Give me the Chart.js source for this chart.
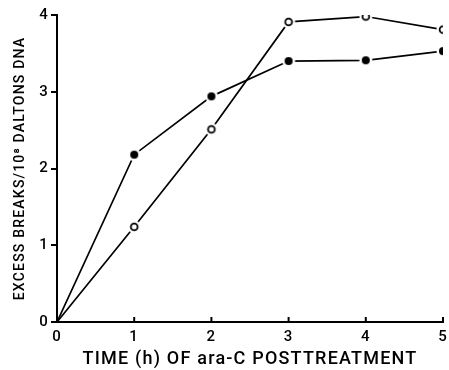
<!DOCTYPE html>
<html>
<head>
<meta charset="utf-8">
<script src="https://cdn.jsdelivr.net/npm/chart.js@4"></script>
<style>
  html, body { margin: 0; padding: 0; background: #fff; }
  #wrap { width: 449px; height: 370px; }
</style>
</head>
<body>
<div id="wrap"><canvas id="myChart" width="449" height="370"></canvas></div>
<script>
const hours = [0, 1, 2, 3, 4, 5];
const filledBreaks = [0, 2.18, 2.94, 3.40, 3.41, 3.53];
const openBreaks = [0, 1.24, 2.51, 3.91, 3.98, 3.81];
const xTicks = [0, 1, 2, 3, 4, 5];
const yTicks = [0, 1, 2, 3, 4];

const FONT = "Roboto, 'Liberation Sans', sans-serif";

// marker with a white ring so the line stops short of it
function marker(filled) {
  const c = document.createElement('canvas');
  c.width = 16; c.height = 16;
  const g = c.getContext('2d');
  g.fillStyle = '#fff';
  g.beginPath(); g.arc(8, 8, 6.5, 0, Math.PI * 2); g.fill();
  g.beginPath(); g.arc(8, 8, filled ? 4 : 3.4, 0, Math.PI * 2);
  g.lineWidth = 1.8;
  g.strokeStyle = '#000';
  if (filled) { g.fillStyle = '#000'; g.fill(); } else { g.stroke(); }
  return c;
}

// wider text like the original lettering
const spacing = {
  id: 'spacing',
  beforeDraw(chart) { chart.ctx.letterSpacing = '1.2px'; }
};

// x-axis ticks point up into the plot
const innerTicks = {
  id: 'innerTicks',
  afterDraw(chart) {
    const ctx = chart.ctx;
    const x = chart.scales.x;
    ctx.save();
    ctx.strokeStyle = '#000';
    ctx.lineWidth = 2;
    xTicks.forEach(v => {
      const px = x.getPixelForValue(v);
      ctx.beginPath();
      ctx.moveTo(px, x.top);
      ctx.lineTo(px, x.top - 5);
      ctx.stroke();
    });
    ctx.restore();
  }
};

const data = {
  datasets: [{
    label: 'filled',
    data: hours.map((h, i) => ({ x: h, y: filledBreaks[i] })),
    borderColor: '#000',
    borderWidth: 1.7,
    pointStyle: hours.map((h, i) => i === 0 ? false : marker(true)),
    showLine: true
  }, {
    label: 'open',
    data: hours.map((h, i) => ({ x: h, y: openBreaks[i] })),
    borderColor: '#000',
    borderWidth: 1.7,
    pointStyle: hours.map((h, i) => i === 0 ? false : marker(false)),
    showLine: true
  }]
};

const config = {
  type: 'scatter',
  data: data,
  plugins: [spacing, innerTicks],
  options: {
    responsive: false,
    animation: false,
    layout: { padding: { top: 15, right: 6, left: 0, bottom: 0 } },
    plugins: { legend: { display: false }, tooltip: { enabled: false } },
    scales: {
      x: {
        type: 'linear', min: 0, max: 5,
        afterBuildTicks: s => { s.ticks = xTicks.map(v => ({ value: v })); },
        afterFit: s => { s.height = 48; s.paddingRight = 0; s.paddingLeft = 0; },
        grid: { display: false, drawTicks: false },
        border: { display: true, color: '#000', width: 2 },
        ticks: { color: '#000', padding: 6, font: { family: FONT, size: 15, weight: 500 } },
        title: {
          display: true, text: 'TIME (h) OF ara-C POSTTREATMENT', color: '#000',
          padding: { top: 0, bottom: 0 }, font: { family: FONT, size: 18, weight: 500 }
        }
      },
      y: {
        type: 'linear', min: 0, max: 4,
        afterBuildTicks: s => { s.ticks = yTicks.map(v => ({ value: v })); },
        afterFit: s => { s.width = 57; s.paddingTop = 0; s.paddingBottom = 0; },
        grid: { drawOnChartArea: false, drawTicks: true, tickLength: 6, color: '#000', lineWidth: 2 },
        border: { display: true, color: '#000', width: 2 },
        ticks: { color: '#000', padding: 2, font: { family: FONT, size: 15, weight: 500 } },
        title: {
          display: true, text: 'EXCESS BREAKS/10\u2078 DALTONS DNA', color: '#000',
          padding: { top: 12, bottom: 0 }, font: { family: FONT, size: 14, weight: 500 }
        }
      }
    }
  }
};

const myChart = new Chart(document.getElementById('myChart').getContext('2d'), config);
</script>
</body>
</html>
